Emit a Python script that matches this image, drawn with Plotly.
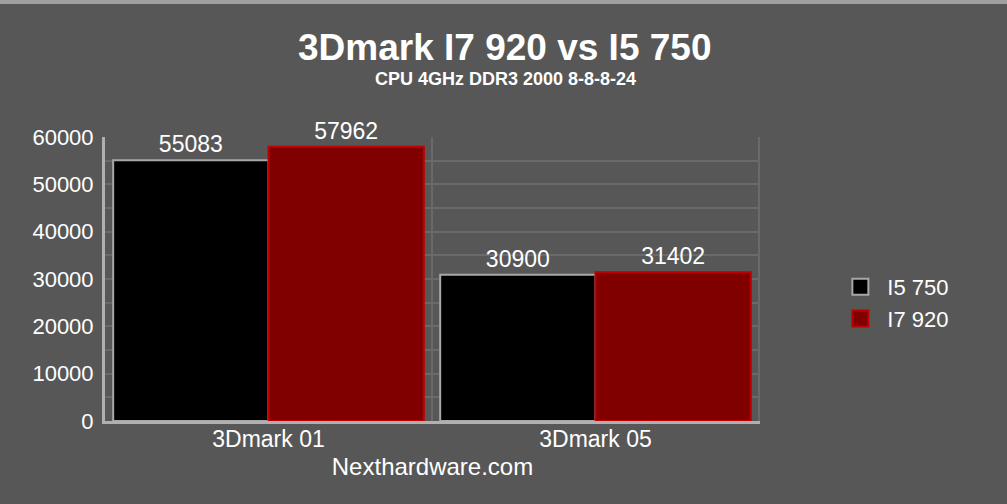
import plotly.graph_objects as go

categories = ["3Dmark 01", "3Dmark 05"]
i5_750 = [55083, 30900]
i7_920 = [57962, 31402]
series_names = ["I5 750", "I7 920"]
y_ticks = [0, 10000, 20000, 30000, 40000, 50000, 60000]
title_text = "3Dmark I7 920 vs I5 750"
subtitle_text = "CPU 4GHz DDR3 2000 8-8-8-24"
x_title = "Nexthardware.com"

BG = "#575757"
GRID = "#6a6a6a"
FONT = "Liberation Sans"
colors = ["#000000", "#800000"]
borders = ["#a8a8a8", "#c00000"]

fig = go.Figure()
for name, vals, c, b in zip(series_names, [i5_750, i7_920], colors, borders):
    fig.add_trace(go.Bar(
        name=name, x=categories, y=vals,
        marker=dict(color=c, line=dict(color=b, width=2)),
        text=[str(v) for v in vals], textposition="outside",
        textfont=dict(color="white", size=23, family=FONT), cliponaxis=False,
        showlegend=False,
    ))
# legend entries
for name, c, b in zip(series_names, colors, borders):
    fig.add_trace(go.Scatter(
        name=name, x=[None], y=[None], mode="markers",
        marker=dict(symbol="square", size=16, color=c, line=dict(color=b, width=2)),
        showlegend=True,
    ))

fig.update_layout(
    width=1007, height=504,
    paper_bgcolor=BG, plot_bgcolor=BG,
    margin=dict(l=105, r=247, t=137, b=83),
    barmode="group", bargap=0.05, bargroupgap=0.0,
    font=dict(family=FONT, color="white", size=22),
    legend=dict(
        x=1.112, xanchor="left", y=0.5 - 24 / 284, yanchor="middle",
        font=dict(size=22, color="white", family=FONT),
        bgcolor="rgba(0,0,0,0)", tracegroupgap=0, itemwidth=44,
    ),
    showlegend=True,
)
title_x = (505 - 105) / 655
fig.add_annotation(text="<b>" + title_text + "</b>", xref="paper", yref="paper",
                   x=title_x, y=1 + (137 - 47) / 284, xanchor="center", yanchor="middle",
                   showarrow=False, font=dict(family=FONT, size=37, color="white"))
fig.add_annotation(text="<b>" + subtitle_text + "</b>", xref="paper", yref="paper",
                   x=title_x, y=1 + (137 - 79) / 284, xanchor="center", yanchor="middle",
                   showarrow=False, font=dict(family=FONT, size=18, color="white"))

fig.update_xaxes(
    showline=True, linecolor="#b0b0b0", linewidth=3,
    showgrid=False, ticks="", tickfont=dict(size=23, color="white"),
    ticklabelstandoff=-5,
    title=dict(text=x_title, font=dict(size=24, color="white"), standoff=8),
)
fig.update_yaxes(
    range=[0, 60000], tickvals=y_ticks, ticktext=[str(v) for v in y_ticks],
    showline=True, linecolor="#b0b0b0", linewidth=3,
    showgrid=True, gridcolor=GRID, gridwidth=2,
    minor=dict(dtick=5000, showgrid=True, gridcolor=GRID, gridwidth=2),
    tickfont=dict(size=22, color="white"), ticks="", ticklabelstandoff=4,
    zeroline=False,
)
fig.add_vline(x=0.5, line=dict(color=GRID, width=2), layer="below")
fig.add_vline(x=1.5, line=dict(color=GRID, width=2), layer="below")
fig.add_shape(type="rect", xref="paper", yref="paper", x0=-0.2, x1=1.5,
              y0=1 + (137 - 4) / 284, y1=1.6,
              fillcolor="#a0a0a0", line=dict(width=0), layer="below")

fig.write_html("out.html", config={"displayModeBar": False},
               post_script="document.body.style.margin='0';document.body.style.background='#575757';window.dispatchEvent(new Event('resize'));")
